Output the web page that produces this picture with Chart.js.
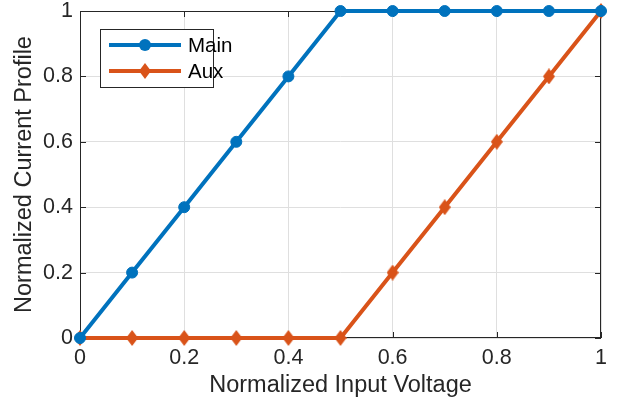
<!DOCTYPE html>
<html><head><meta charset="utf-8">
<script src="https://cdn.jsdelivr.net/npm/chart.js@4.4.1/dist/chart.umd.min.js"></script>
<style>html,body{margin:0;padding:0;background:#fff}#wrap{width:624px;height:405px}</style>
</head><body><div id="wrap"><canvas id="c" width="624" height="405"></canvas></div>
<script>
const xValues = [0, 0.1, 0.2, 0.3, 0.4, 0.5, 0.6, 0.7, 0.8, 0.9, 1];
const mainValues = [0, 0.2, 0.4, 0.6, 0.8, 1, 1, 1, 1, 1, 1];
const auxValues = [0, 0, 0, 0, 0, 0, 0.2, 0.4, 0.6, 0.8, 1];
const xTicks = [0, 0.2, 0.4, 0.6, 0.8, 1];
const yTicks = [0, 0.2, 0.4, 0.6, 0.8, 1];
const seriesNames = ['Main', 'Aux'];
const xTitle = 'Normalized Input Voltage';
const yTitle = 'Normalized Current Profile';

const FONT = '"Liberation Sans", Arial, Helvetica, sans-serif';
const BLUE = '#0072BD', ORANGE = '#D95319', AXIS = '#262626';

function makeDiamond(color) {
  const c = document.createElement('canvas');
  c.width = 12; c.height = 16;
  const g = c.getContext('2d');
  g.fillStyle = color;
  g.beginPath();
  g.moveTo(6, 0); g.lineTo(12, 8); g.lineTo(6, 16); g.lineTo(0, 8); g.closePath();
  g.fill();
  return c;
}
const diamond = makeDiamond(ORANGE);

const frame = {
  id: 'frame',
  beforeDatasetsDraw(chart) {
    const {ctx, chartArea: a, scales: {x, y}} = chart;
    ctx.save();
    ctx.strokeStyle = AXIS; ctx.lineWidth = 1;
    ctx.strokeRect(Math.round(a.left) + 0.5, Math.round(a.top) + 0.5,
      Math.round(a.right - a.left) - 1, Math.round(a.bottom - a.top) - 1);
    const L = 6;
    ctx.beginPath();
    xTicks.forEach(v => {
      const px = Math.round(x.getPixelForValue(v)) + 0.5;
      ctx.moveTo(px, a.bottom); ctx.lineTo(px, a.bottom - L);
      ctx.moveTo(px, a.top); ctx.lineTo(px, a.top + L);
    });
    yTicks.forEach(v => {
      const py = Math.round(y.getPixelForValue(v)) + 0.5;
      ctx.moveTo(a.left, py); ctx.lineTo(a.left + L, py);
      ctx.moveTo(a.right, py); ctx.lineTo(a.right - L, py);
    });
    ctx.stroke();
    ctx.restore();
  },
  afterDraw(chart) {
    const ctx = chart.ctx;
    ctx.save();
    ctx.fillStyle = '#fff';
    ctx.strokeStyle = AXIS; ctx.lineWidth = 1;
    ctx.fillRect(100.5, 29.5, 113, 58);
    ctx.strokeRect(100.5, 29.5, 113, 58);
    chart.data.datasets.forEach((ds, i) => {
      const yy = 45 + i * 26;
      ctx.strokeStyle = ds.borderColor; ctx.lineWidth = 4;
      ctx.beginPath(); ctx.moveTo(109, yy); ctx.lineTo(181, yy); ctx.stroke();
      if (ds.pointStyle === 'circle') {
        ctx.fillStyle = ds.borderColor;
        ctx.beginPath(); ctx.arc(145, yy, 6, 0, Math.PI * 2); ctx.fill();
      } else {
        ctx.drawImage(ds.pointStyle, 145 - 6, yy - 8);
      }
      ctx.fillStyle = '#000';
      ctx.font = '20.5px ' + FONT;
      ctx.textBaseline = 'middle'; ctx.textAlign = 'left';
      ctx.fillText(ds.label, 188, yy + 1);
    });
    ctx.restore();
  }
};

new Chart(document.getElementById('c'), {
  type: 'line',
  data: {
    datasets: [
      { label: seriesNames[0], data: xValues.map((v, i) => ({x: v, y: mainValues[i]})),
        borderColor: BLUE, backgroundColor: BLUE, borderWidth: 4, pointStyle: 'circle',
        pointRadius: 5.5, pointBorderWidth: 1, pointBackgroundColor: BLUE, pointBorderColor: BLUE,
        tension: 0, clip: false },
      { label: seriesNames[1], data: xValues.map((v, i) => ({x: v, y: auxValues[i]})),
        borderColor: ORANGE, backgroundColor: ORANGE, borderWidth: 4, pointStyle: diamond,
        pointRadius: 6, tension: 0, clip: false }
    ]
  },
  options: {
    responsive: false, animation: false, devicePixelRatio: 1,
    layout: { padding: { left: 0, right: 23, top: 11, bottom: 0 } },
    plugins: { legend: { display: false }, tooltip: { enabled: false } },
    scales: {
      x: {
        type: 'linear', min: 0, max: 1,
        afterBuildTicks: s => { s.ticks = xTicks.map(v => ({value: v})); },
        afterFit: s => { s.height = 67; s.paddingLeft = 0; s.paddingRight = 0; },
        grid: { color: '#dfdfdf', lineWidth: 1, drawTicks: false },
        border: { display: false },
        ticks: { color: AXIS, padding: 7.5, font: { size: 21.5, family: FONT }, callback: v => String(v), maxRotation: 0 },
        title: { display: true, text: xTitle, color: AXIS, font: { size: 23.5, family: FONT }, padding: { top: 0, bottom: 5 } }
      },
      y: {
        type: 'linear', min: 0, max: 1,
        afterBuildTicks: s => { s.ticks = yTicks.map(v => ({value: v})); },
        afterFit: s => { s.width = 80; s.paddingTop = 0; s.paddingBottom = 0; },
        grid: { color: '#dfdfdf', lineWidth: 1, drawTicks: false },
        border: { display: false },
        ticks: { color: AXIS, padding: 7, font: { size: 21.5, family: FONT, lineHeight: 1 }, callback: v => String(v) },
        title: { display: true, text: yTitle, color: AXIS, font: { size: 23.5, family: FONT }, padding: { top: 10, bottom: 0 } }
      }
    }
  },
  plugins: [frame]
});
</script></body></html>
